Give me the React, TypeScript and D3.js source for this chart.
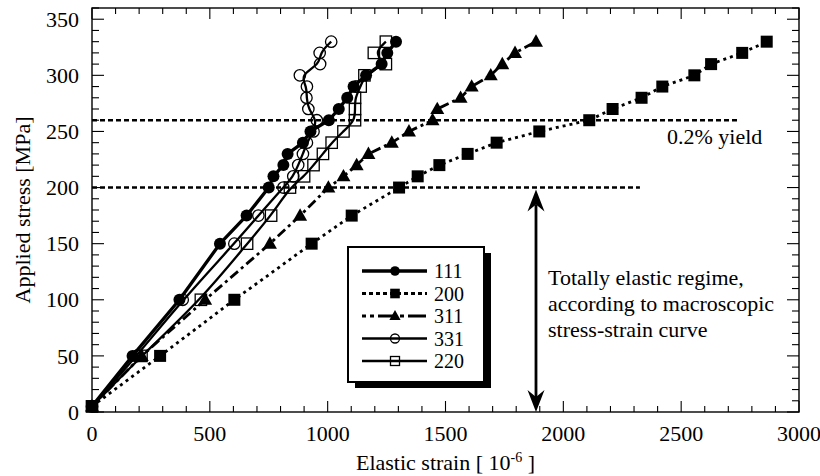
import React from 'react';
import * as d3 from 'd3';

const stressLevels = [5, 50, 100, 150, 175, 200, 210, 220, 230, 240, 250, 260, 270, 280, 290, 300, 310, 320, 330];
const strain111 = [0, 172, 371, 543, 656, 750, 770, 812, 830, 895, 927, 1005, 1047, 1083, 1110, 1163, 1229, 1253, 1290];
const strain200 = [0, 289, 604, 932, 1102, 1303, 1382, 1474, 1594, 1717, 1898, 2110, 2209, 2332, 2420, 2556, 2627, 2759, 2863];
const strain311 = [0, 211, 480, 755, 883, 1003, 1067, 1123, 1173, 1272, 1345, 1445, 1465, 1564, 1611, 1692, 1741, 1795, 1884];
const strain331 = [0, 190, 385, 604, 706, 812, 854, 875, 895, 912, 940, 954, 918, 910, 912, 882, 968, 966, 1015];
const strain220 = [0, 210, 462, 658, 760, 840, 900, 940, 980, 1017, 1067, 1116, 1116, 1116, 1140, 1156, 1247, 1196, 1247];

const seriesNames = ['111', '200', '311', '331', '220'];
const xTickValues = [0, 500, 1000, 1500, 2000, 2500, 3000];
const yTickValues = [0, 50, 100, 150, 200, 250, 300, 350];
const yieldStress = 260;
const elasticStress = 200;
const yieldLineEnd = 2740;
const elasticLineEnd = 2325;
const arrowStrain = 1884;

const W = 820, H = 476;
const L = 92, R = 799, T = 8, B = 412;
const FONT = '"Liberation Serif", "Times New Roman", serif';

type Marker = 'circleFilled' | 'squareFilled' | 'triangleFilled' | 'circleOpen' | 'squareOpen';

function MarkerShape({ kind, cx, cy, s = 1 }: { kind: Marker; cx: number; cy: number; s?: number }) {
  const r = 6 * s;
  const h = 6 * s;
  switch (kind) {
    case 'circleFilled':
      return <circle cx={cx} cy={cy} r={r} fill="#000" />;
    case 'circleOpen':
      return <circle cx={cx} cy={cy} r={r - 0.3} fill="none" stroke="#000" strokeWidth={1.3} />;
    case 'squareFilled':
      return <rect x={cx - h} y={cy - h} width={2 * h} height={2 * h} fill="#000" />;
    case 'squareOpen':
      return <rect x={cx - h + 0.3} y={cy - h + 0.3} width={2 * h - 0.6} height={2 * h - 0.6} fill="none" stroke="#000" strokeWidth={1.3} />;
    case 'triangleFilled': {
      const a = 7 * s;
      return <path d={`M${cx},${cy - a * 1.05}L${cx + a},${cy + a * 0.72}L${cx - a},${cy + a * 0.72}Z`} fill="#000" />;
    }
  }
  return null;
}

export default function App() {
  const x = d3.scaleLinear().domain([0, 3000]).range([L, R]);
  const y = d3.scaleLinear().domain([0, 360]).range([B, T]);

  const series = [
    { name: seriesNames[0], xs: strain111, marker: 'circleFilled' as Marker, dash: undefined, width: 3.3, curve: d3.curveLinear, legendDash: undefined },
    { name: seriesNames[1], xs: strain200, marker: 'squareFilled' as Marker, dash: '3,4', width: 2.8, curve: d3.curveLinear, legendDash: '4,3' },
    { name: seriesNames[2], xs: strain311, marker: 'triangleFilled' as Marker, dash: '10,4,3,4', width: 2.8, curve: d3.curveLinear, legendDash: '4,4,4,4,14,0' },
    { name: seriesNames[3], xs: strain331, marker: 'circleOpen' as Marker, dash: undefined, width: 2.3, curve: d3.curveBasis, legendDash: undefined },
    { name: seriesNames[4], xs: strain220, marker: 'squareOpen' as Marker, dash: undefined, width: 2.3, curve: d3.curveBasis, legendDash: undefined },
  ];

  const drawOrder = [3, 4, 0, 2, 1];

  const lineFor = (xs: number[], curve: d3.CurveFactory) =>
    d3.line<number>().x((v) => x(v)).y((_, i) => y(stressLevels[i])).curve(curve)(xs) || '';

  const xMinor = d3.range(0, 3001, 100);
  const yMinor = d3.range(0, 361, 10);

  const legendX0 = 348, legendY0 = 247, legendW = 136, legendH = 135;
  const rowY = (i: number) => 271 + i * 22.5;

  const ax = x(arrowStrain);
  const topTip = y(elasticStress) + 2;
  const botTip = B;
  const headL = 22, headW = 8.5, notch = 15;

  return (
    <svg width={W} height={H} style={{ position: 'absolute', left: 0, top: 0, background: '#fff' }} fontFamily={FONT}>
      <rect x={0} y={0} width={W} height={H} fill="#fff" />

      {/* reference dashed lines */}
      <line x1={x(0)} x2={x(yieldLineEnd)} y1={y(yieldStress)} y2={y(yieldStress)} stroke="#000" strokeWidth={2.6} strokeDasharray="5,3" />
      <line x1={x(0)} x2={x(elasticLineEnd)} y1={y(elasticStress)} y2={y(elasticStress)} stroke="#000" strokeWidth={2.6} strokeDasharray="5,3" />

      {/* series lines */}
      {drawOrder.map((k) => {
        const s = series[k];
        return (
          <path key={'l' + s.name} d={lineFor(s.xs, s.curve)} fill="none" stroke="#000" strokeWidth={s.width} strokeDasharray={s.dash} strokeLinejoin="round" />
        );
      })}
      {/* markers */}
      {drawOrder.map((k) => {
        const s = series[k];
        return (
          <g key={'m' + s.name}>
            {s.xs.map((v, i) => (
              <MarkerShape key={i} kind={s.marker} cx={x(v)} cy={y(stressLevels[i])} />
            ))}
          </g>
        );
      })}

      {/* arrow */}
      <line x1={ax} x2={ax} y1={topTip + notch} y2={botTip - notch} stroke="#000" strokeWidth={2.8} />
      <path d={`M${ax},${topTip}L${ax + headW},${topTip + headL}L${ax},${topTip + notch}L${ax - headW},${topTip + headL}Z`} fill="#000" />
      <path d={`M${ax},${botTip}L${ax + headW},${botTip - headL}L${ax},${botTip - notch}L${ax - headW},${botTip - headL}Z`} fill="#000" />

      {/* annotations */}
      <text x={x(2440)} y={y(239)} fontSize={22} fill="#000">0.2% yield</text>
      <text x={x(1935)} y={285} fontSize={22} fill="#000">
        <tspan x={x(1935)} dy={0}>Totally elastic regime,</tspan>
        <tspan x={x(1935)} dy={26}>according to macroscopic</tspan>
        <tspan x={x(1935)} dy={26}>stress-strain curve</tspan>
      </text>

      {/* legend */}
      <rect x={legendX0 + 7} y={legendY0 + 6} width={legendW} height={legendH} fill="#000" />
      <rect x={legendX0} y={legendY0} width={legendW} height={legendH} fill="#fff" stroke="#000" strokeWidth={2} />
      {series.map((s, i) => (
        <g key={'lg' + s.name}>
          <line x1={362} x2={427} y1={rowY(i)} y2={rowY(i)} stroke="#000" strokeWidth={s.width} strokeDasharray={s.legendDash} />
          <MarkerShape kind={s.marker} cx={395} cy={rowY(i)} s={0.8} />
          <text x={434} y={rowY(i)} dy="0.35em" fontSize={20} fill="#000">{s.name}</text>
        </g>
      ))}

      {/* frame */}
      <rect x={L} y={T} width={R - L} height={B - T} fill="none" stroke="#000" strokeWidth={1.4} />

      {/* ticks */}
      {xMinor.map((v) => {
        const major = v % 500 === 0;
        const len = major ? 11 : 6;
        return (
          <g key={'xt' + v}>
            <line x1={x(v)} x2={x(v)} y1={B} y2={B - len} stroke="#000" strokeWidth={1.1} />
            <line x1={x(v)} x2={x(v)} y1={T} y2={T + len} stroke="#000" strokeWidth={1.1} />
          </g>
        );
      })}
      {yMinor.map((v) => {
        const major = v % 50 === 0;
        const len = major ? 12 : 7;
        return (
          <g key={'yt' + v}>
            <line x1={L} x2={L + len} y1={y(v)} y2={y(v)} stroke="#000" strokeWidth={1.1} />
            <line x1={R} x2={R - len} y1={y(v)} y2={y(v)} stroke="#000" strokeWidth={1.1} />
          </g>
        );
      })}
      {xTickValues.map((v) => (
        <text key={'xl' + v} x={x(v)} y={441} textAnchor="middle" fontSize={22} fill="#000">{v}</text>
      ))}
      {yTickValues.map((v) => (
        <text key={'yl' + v} x={79} y={y(v)} dy="0.35em" textAnchor="end" fontSize={22} fill="#000">{v}</text>
      ))}

      {/* axis titles */}
      <text x={(L + R) / 2} y={470} textAnchor="middle" fontSize={22} fill="#000">
        Elastic strain [ 10<tspan dy={-8} fontSize={14}>-6</tspan><tspan dy={8}> ]</tspan>
      </text>
      <text transform={`translate(30,${(T + B) / 2}) rotate(-90)`} textAnchor="middle" fontSize={22} fill="#000">Applied stress [MPa]</text>
    </svg>
  );
}
